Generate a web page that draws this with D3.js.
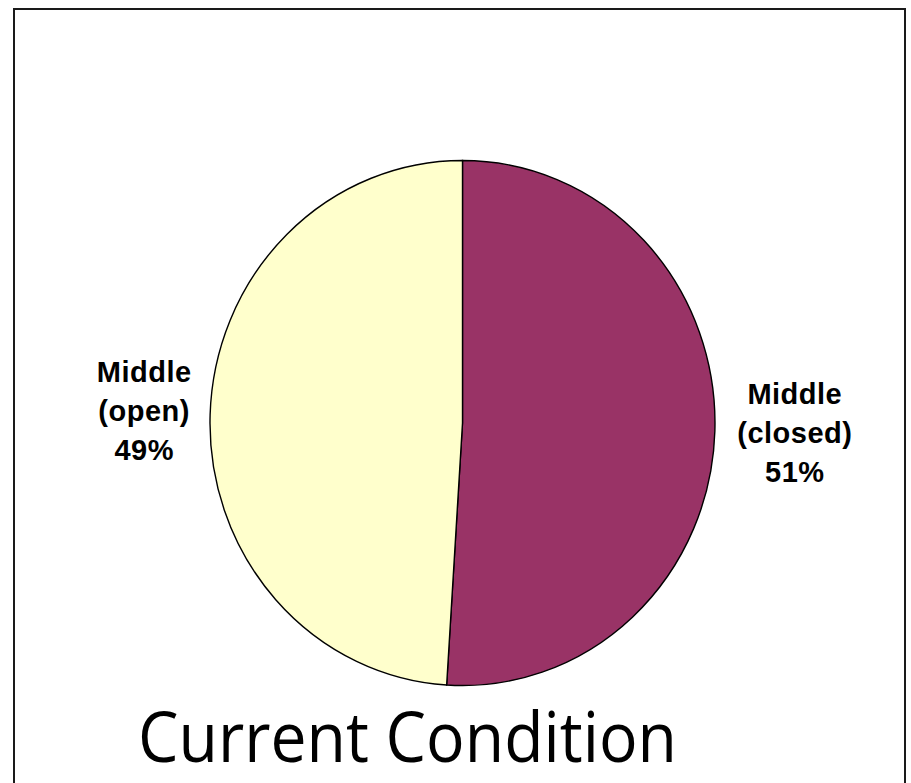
<!DOCTYPE html>
<html>
<head>
<meta charset="utf-8">
<script src="https://cdn.jsdelivr.net/npm/d3@7"></script>
<style>
  body { margin: 0; background: #fff; }
  svg { display: block; }
</style>
</head>
<body>
<svg></svg>
<script>
// slices, clockwise from 12 o'clock
const names = ["Middle", "Middle"];
const states = ["(closed)", "(open)"];
const shares = [51, 49];
const colors = ["#993366", "#FFFFCC"];
const title = "Current Condition";

const width = 911;
const height = 783;
const cx = 462.5, cy = 423;
const radius = 252.5;
const stretchY = 262.5 / 252.5; // the picture is a bit taller than wide
const labelRadius = 325.5;
const labelShift = 7;

const svg = d3.select("svg")
              .attr("width", width)
              .attr("height", height);

// frame
svg.append("rect")
   .attr("x", 14)
   .attr("y", 9)
   .attr("width", 891)
   .attr("height", 800)
   .attr("fill", "none")
   .attr("stroke", "#1a1a1a")
   .attr("stroke-width", 2);

const data = shares.map((v, i) => ({ name: names[i], state: states[i], value: v, color: colors[i] }));

const pie = d3.pie()
              .sort(null)
              .value(d => d.value);

const arc = d3.arc()
              .innerRadius(0)
              .outerRadius(radius);

const arcs = pie(data);

const g = svg.append("g")
             .attr("transform", `translate(${cx}, ${cy}) scale(1, ${stretchY})`);

g.selectAll("path")
  .data(arcs)
  .enter()
  .append("path")
    .attr("d", arc)
    .attr("fill", d => d.data.color)
    .attr("stroke", "#000")
    .attr("stroke-width", 1.4)
    .attr("vector-effect", "non-scaling-stroke");

// labels outside the pie
svg.selectAll("text.label")
  .data(arcs)
  .enter()
  .append("text")
    .attr("class", "label")
    .attr("text-anchor", "middle")
    .style("font-family", "'Liberation Sans', Arial, sans-serif")
    .style("font-weight", "bold")
    .style("font-size", "29px")
    .style("letter-spacing", "0.5px")
    .attr("fill", "#000")
    .each(function(d) {
      const mid = (d.startAngle + d.endAngle) / 2;
      const x = cx + labelShift + Math.sin(mid) * labelRadius;
      const y = cy - Math.cos(mid) * labelRadius * stretchY + 9;
      const lines = [d.data.name, d.data.state, d.data.value + "%"];
      d3.select(this).selectAll("tspan")
        .data(lines)
        .enter()
        .append("tspan")
          .attr("x", x)
          .attr("y", (t, i) => y + (i - 1) * 39)
          .text(t => t);
    });

svg.append("text")
   .attr("x", 407.5)
   .attr("y", 762)
   .attr("text-anchor", "middle")
   .attr("textLength", 539)
   .attr("lengthAdjust", "spacingAndGlyphs")
   .style("font-family", "'Open Sans', 'Noto Sans', sans-serif")
   .style("font-size", "70px")
   .attr("fill", "#000")
   .text(title);
</script>
</body>
</html>
